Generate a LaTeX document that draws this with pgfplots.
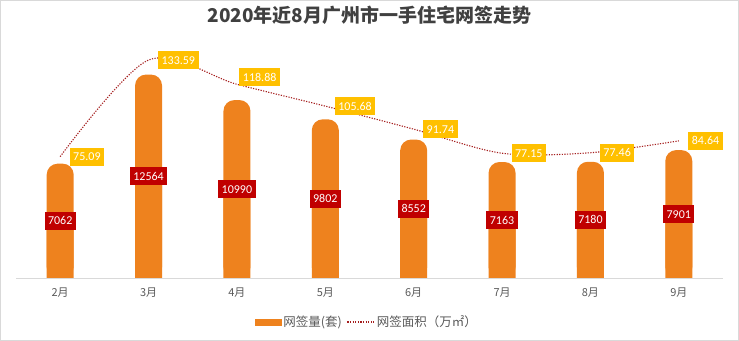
\documentclass[border=0pt]{standalone}
\usepackage{pgfplots}
\pgfplotsset{compat=1.18}
\usepackage{pgfplotstable}
\usepackage{fontspec}
\setmainfont{Carlito}
\newfontfamily\cjk{Noto Sans CJK SC}
\definecolor{barorange}{RGB}{238,130,30}
\definecolor{lblred}{RGB}{192,0,0}
\definecolor{lblgold}{RGB}{255,192,0}
\definecolor{linered}{RGB}{165,30,30}
\definecolor{txtgray}{RGB}{89,89,89}
\definecolor{titlegray}{RGB}{64,64,64}
\definecolor{axisgray}{RGB}{217,217,217}

\pgfplotstableread{
x n
0 7062
1 12564
2 10990
3 9802
4 8552
5 7163
6 7180
7 7901
}\bars

\pgfplotstableread{
x a
0 75.09
1 133.59
2 118.88
3 105.68
4 91.74
5 77.15
6 77.46
7 84.64
}\area

\begin{document}
\begin{tikzpicture}
\useasboundingbox (0,0) rectangle (739bp,341bp);
\draw[axisgray, line width=1bp] (0.5bp,0.5bp) rectangle (738.5bp,340.5bp);
\begin{axis}[
  at={(16bp,63bp)}, anchor=south west,
  scale only axis, width=707bp, height=238bp,
  xmin=-0.5, xmax=7.5, ymin=0, ymax=14700,
  axis y line=none, axis x line=bottom,
  x axis line style={-, axisgray, line width=1bp},
  xtick={0,...,7},
  xticklabels={2月,3月,4月,5月,6月,7月,8月,9月},
  major tick length=0pt,
  xticklabel style={font=\cjk\fontsize{11bp}{12bp}\selectfont, text=txtgray, yshift=-6bp},
  title={2020年近8月广州市一手住宅网签走势},
  title style={at={(0.5,1.077)}, anchor=center, font=\cjk\bfseries\fontsize{19bp}{22bp}\selectfont, text=titlegray},
]
\addplot[ybar, bar width=27bp, bar shift=0pt, fill=barorange, draw=none, rounded corners=11bp]
  table[x=x, y=n]{\bars};
\addplot[ybar, bar width=27bp, bar shift=0pt, fill=barorange, draw=none,
  nodes near coords={\pgfplotspointmeta}, point meta=explicit symbolic,
  every node near coord/.append style={anchor=center, fill=lblred, text=white,
    font=\fontsize{12bp}{13bp}\selectfont, inner xsep=3.5bp, inner ysep=5bp,
    text height=8bp, text depth=0bp}]
  table[x=x, y expr=\thisrow{n}/2, meta=n]{\bars};
\end{axis}
\begin{axis}[
  at={(16bp,63bp)}, anchor=south west,
  scale only axis, width=707bp, height=238bp,
  xmin=-0.5, xmax=7.5, ymin=1.63, ymax=145.7,
  axis lines=none,
  legend columns=2,
  legend style={at={(0.4965,-0.185)}, anchor=center, draw=none, fill=none,
    font=\cjk\fontsize{12.5bp}{14bp}\selectfont, text=txtgray,
    /tikz/every even column/.append style={column sep=3bp}},
]
\addlegendimage{legend image code/.code={\fill[barorange] (0bp,-3bp) rectangle (26bp,3bp);}}
\addlegendentry{网签量(套)}
\addplot[linered, line width=1.1bp, dash pattern=on 1.2bp off 1.4bp, smooth, mark=none,
  nodes near coords={\pgfplotspointmeta}, point meta=explicit symbolic,
  every node near coord/.append style={anchor=west, xshift=9bp, fill=lblgold, text=white,
    font=\fontsize{12bp}{13bp}\selectfont, inner xsep=3.5bp, inner ysep=5bp,
    text height=8bp, text depth=0bp, solid},
  coordinate style/.condition={\coordindex==2}{anchor=south, xshift=-7bp, yshift=7bp},
  legend image code/.code={\draw[linered, line width=1.1bp, dash pattern=on 1.2bp off 1.4bp] (0bp,0bp) -- (27bp,0bp);}]
  table[x=x, y=a, meta=a]{\area};
\addlegendentry{网签面积（万㎡）}
\end{axis}
\end{tikzpicture}
\end{document}
